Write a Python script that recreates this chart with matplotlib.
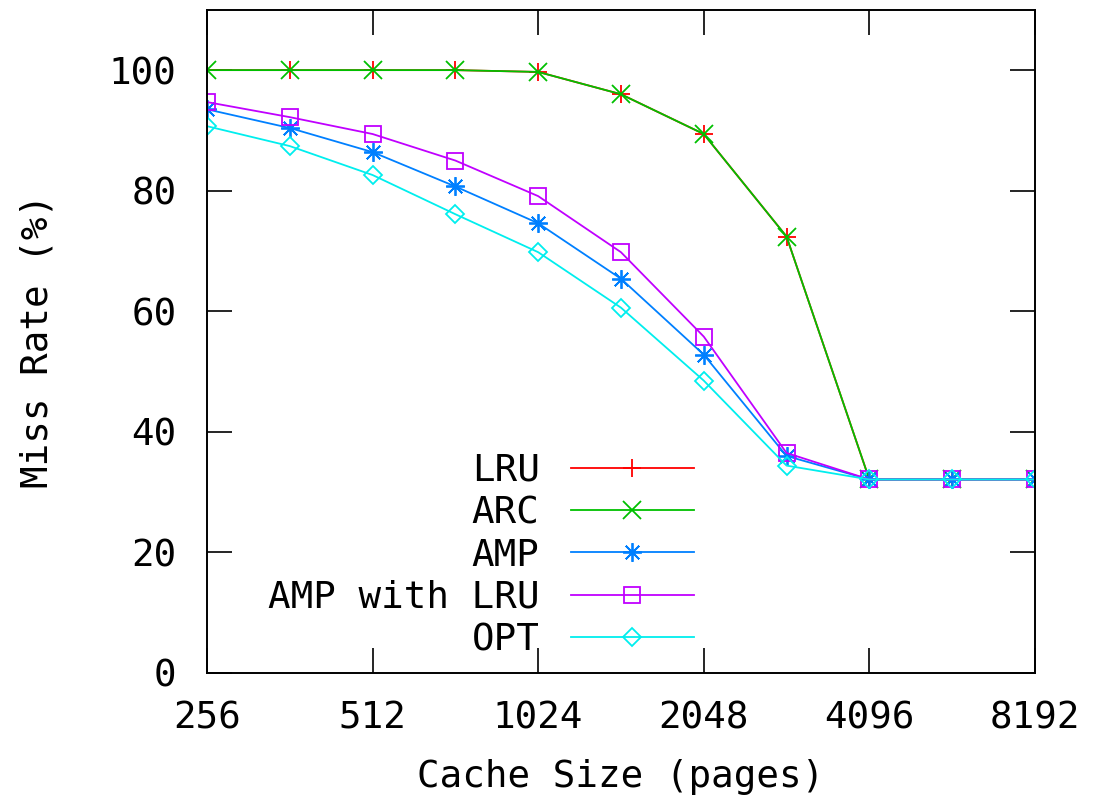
import matplotlib
matplotlib.use("Agg")
import matplotlib.pyplot as plt
from matplotlib.ticker import FixedLocator, FixedFormatter, NullLocator

# Cache sizes (pages), half-octave steps from 256 to 8192
cache_sizes = [256, 362, 512, 724, 1024, 1448, 2048, 2896, 4096, 5793, 8192]

# Miss rates (%)
lru = [100.0, 100.0, 100.0, 100.0, 99.7, 96.0, 89.4, 72.4, 32.1, 32.1, 32.1]
arc = [100.0, 100.0, 100.0, 100.0, 99.7, 96.0, 89.4, 72.4, 32.1, 32.1, 32.1]
amp = [93.5, 90.4, 86.4, 80.7, 74.6, 65.4, 52.8, 36.0, 32.1, 32.1, 32.1]
amp_lru = [94.7, 92.2, 89.4, 85.0, 79.1, 69.8, 55.8, 36.5, 32.1, 32.1, 32.1]
opt = [90.7, 87.4, 82.6, 76.1, 69.8, 60.6, 48.5, 34.4, 32.1, 32.1, 32.1]

x_ticks = [256, 512, 1024, 2048, 4096, 8192]
x_tick_labels = ["256", "512", "1024", "2048", "4096", "8192"]
y_ticks = [0, 20, 40, 60, 80, 100]

plt.rcParams["font.family"] = ["DejaVu Sans Mono"]
FS = 27

fig = plt.figure(figsize=(11.01, 7.99), dpi=100)
ax = fig.add_axes([0.188, 0.1577, 0.752, 0.830])

series = [
    ("LRU", lru, "#ff0000", "+", {}),
    ("ARC", arc, "#00c000", "x", {}),
    ("AMP", amp, "#0080ff", (8, 2, 0), {}),
    ("AMP with LRU", amp_lru, "#c000ff", "s", {"markerfacecolor": "none", "markersize": 12}),
    ("OPT", opt, "#00eeee", "D", {"markerfacecolor": "none", "markersize": 9.5}),
]
for label, vals, color, marker, extra in series:
    kw = dict(color=color, marker=marker, markersize=13.5, linewidth=1.3,
              markeredgewidth=1.3, label=label)
    kw.update(extra)
    ax.plot(cache_sizes, vals, **kw)

ax.set_xscale("log", base=2)
ax.set_xlim(256, 8192)
ax.set_ylim(0, 110)
ax.xaxis.set_major_locator(FixedLocator(x_ticks))
ax.xaxis.set_major_formatter(FixedFormatter(x_tick_labels))
ax.xaxis.set_minor_locator(NullLocator())
ax.set_yticks(y_ticks)
ax.set_yticklabels([str(v) for v in y_ticks])

ax.tick_params(axis="both", which="major", direction="in", length=18, width=1.2,
               top=True, right=True, labelsize=FS, colors="black")
ax.tick_params(axis="x", pad=20)
ax.tick_params(axis="y", pad=22)
for sp in ax.spines.values():
    sp.set_linewidth(1.4)

ax.set_xlabel("Cache Size (pages)", fontsize=FS, labelpad=16)
ax.set_ylabel("Miss Rate (%)", fontsize=FS, labelpad=38)

leg = ax.legend(loc="upper right", bbox_to_anchor=(0.588, 0.332), frameon=False,
                markerfirst=False, fontsize=FS, handlelength=3.28, handletextpad=0.83,
                labelspacing=0.17, borderpad=0, borderaxespad=0)

fig.savefig("out.png", dpi=100)
